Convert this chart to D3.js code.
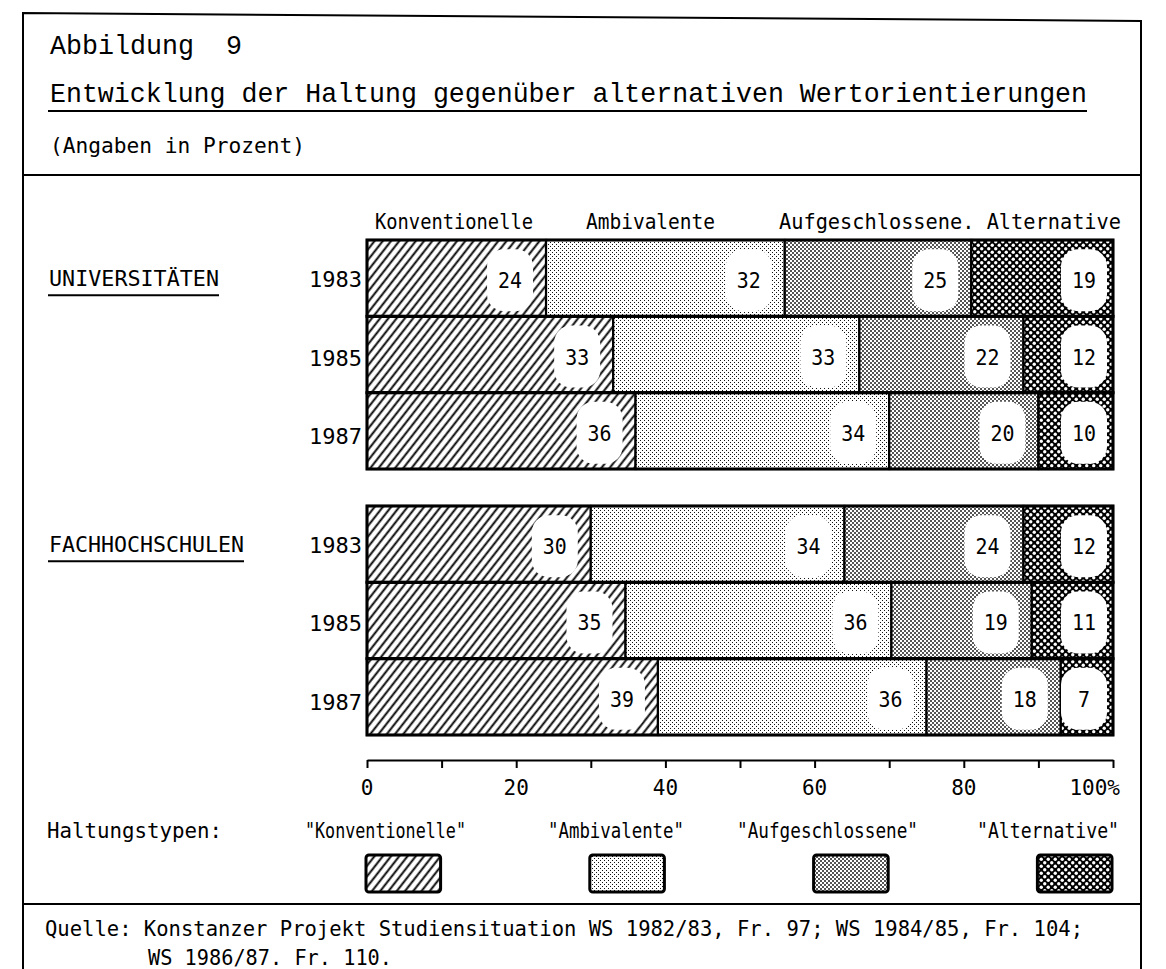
<!DOCTYPE html>
<html><head><meta charset="utf-8">
<script src="https://cdn.jsdelivr.net/npm/d3@7"></script>
<style>body{margin:0;background:#fff}svg{display:block}text{white-space:pre}</style>
</head><body><svg id="c" width="1166" height="969"></svg>
<script>
// ---------- data ----------
const categories = ["Konventionelle", "Ambivalente", "Aufgeschlossene", "Alternative"];
const groups = ["UNIVERSITÄTEN", "FACHHOCHSCHULEN"];
const years = ["1983", "1985", "1987"];
const uniValues = [[24, 32, 25, 19], [33, 33, 22, 12], [36, 34, 20, 10]];
const fhValues = [[30, 34, 24, 12], [35, 36, 19, 11], [39, 36, 18, 7]];
const xTicks = [0, 10, 20, 30, 40, 50, 60, 70, 80, 90, 100];
const xTickLabels = ["0", "20", "40", "60", "80", "100%"];
const xTickLabelValues = [0, 20, 40, 60, 80, 100];
const headerLabels = ["Konventionelle", "Ambivalente", "Aufgeschlossene. Alternative"];
const legendLabels = ['"Konventionelle"', '"Ambivalente"', '"Aufgeschlossene"', '"Alternative"'];

const svg = d3.select("#c");
const MONO = "'DejaVu Sans Mono', monospace";
const SERIFMONO = "'Liberation Mono', monospace";

function txt(xp, yp, s, size, len, fam, anchor) {
  const t = svg.append("text").attr("x", xp).attr("y", yp).attr("font-family", fam || MONO)
    .attr("font-size", size).text(s);
  if (anchor) t.attr("text-anchor", anchor);
  if (len) t.attr("textLength", len).attr("lengthAdjust", "spacingAndGlyphs");
  return t;
}

// ---------- patterns ----------
const defs = svg.append("defs");
const fills = ["url(#pHatch)", "url(#pLight)", "url(#pMed)", "url(#pAlt)"];
let p = defs.append("pattern").attr("id", "pHatch").attr("patternUnits", "userSpaceOnUse")
  .attr("width", 6.5).attr("height", 6.5).attr("patternTransform", "rotate(38)");
p.append("rect").attr("width", 6.5).attr("height", 6.5).attr("fill", "#fff");
p.append("line").attr("x1", 3.25).attr("x2", 3.25).attr("y1", -1).attr("y2", 8).attr("stroke", "#000").attr("stroke-width", 1.9);

p = defs.append("pattern").attr("id", "pLight").attr("patternUnits", "userSpaceOnUse").attr("width", 4).attr("height", 4);
p.append("rect").attr("width", 4).attr("height", 4).attr("fill", "#fff");
p.append("rect").attr("x", 0).attr("y", 0).attr("width", 1).attr("height", 1).attr("fill", "#111");
p.append("rect").attr("x", 2).attr("y", 2).attr("width", 1).attr("height", 1).attr("fill", "#111");

p = defs.append("pattern").attr("id", "pMed").attr("patternUnits", "userSpaceOnUse").attr("width", 4).attr("height", 4);
p.append("rect").attr("width", 4).attr("height", 4).attr("fill", "#fff");
p.append("rect").attr("x", 0).attr("y", 0).attr("width", 2).attr("height", 2).attr("fill", "#555");
p.append("rect").attr("x", 2).attr("y", 2).attr("width", 2).attr("height", 2).attr("fill", "#555");

p = defs.append("pattern").attr("id", "pAlt").attr("patternUnits", "userSpaceOnUse").attr("width", 7).attr("height", 7);
p.append("rect").attr("width", 7).attr("height", 7).attr("fill", "#000");
p.append("circle").attr("cx", 1.75).attr("cy", 1.75).attr("r", 1.7).attr("fill", "#fff");
p.append("circle").attr("cx", 5.25).attr("cy", 5.25).attr("r", 1.7).attr("fill", "#fff");

// ---------- frame ----------
const frame = svg.append("g").attr("stroke", "#000").attr("stroke-width", 2).attr("fill", "none");
frame.append("path").attr("d", "M23,969 L23,13 L1141,21 L1141,969");
frame.append("line").attr("x1", 23).attr("x2", 1141).attr("y1", 175).attr("y2", 175);
frame.append("line").attr("x1", 23).attr("x2", 1141).attr("y1", 904).attr("y2", 904);

// ---------- header ----------
txt(50, 54, "Abbildung  9", 28, 192, SERIFMONO);
txt(50, 102, "Entwicklung der Haltung gegenüber alternativen Wertorientierungen", 28, 1037, SERIFMONO);
svg.append("line").attr("x1", 48).attr("x2", 1087).attr("y1", 111).attr("y2", 111).attr("stroke", "#000").attr("stroke-width", 2);
txt(50, 153, "(Angaben in Prozent)", 22, 255);

// ---------- scales ----------
const x = d3.scaleLinear().domain([0, 1]).range([367, 1113]);
const yGroup = d3.scaleBand().domain(groups).range([240, 735]).paddingInner(0.139);
const yYear = d3.scaleBand().domain(years).range([0, yGroup.bandwidth()]);
const stack = d3.stack().keys(categories).offset(d3.stackOffsetExpand);

// column headers
txt(375, 229, headerLabels[0], 22, 158);
txt(586, 229, headerLabels[1], 22, 129);
txt(779, 229, headerLabels[2], 22, 342);

const groupData = [uniValues, fhValues];
const groupLabelLen = [170, 195];
groups.forEach((g, gi) => {
  const rows = years.map((yr, i) => {
    const o = { year: yr };
    categories.forEach((c, k) => o[c] = groupData[gi][i][k]);
    return o;
  });
  const series = stack(rows);
  const gg = svg.append("g").attr("transform", `translate(0,${yGroup(g)})`);
  series.forEach((s, k) => {
    gg.selectAll(null).data(s).enter().append("rect")
      .attr("x", d => x(d[0])).attr("width", d => x(d[1]) - x(d[0]))
      .attr("y", d => yYear(d.data.year)).attr("height", yYear.bandwidth())
      .attr("fill", fills[k]).attr("stroke", "#000").attr("stroke-width", 2.2);
  });
  gg.selectAll(null).data(rows).enter().append("rect")
    .attr("x", x(0)).attr("width", x(1) - x(0))
    .attr("y", d => yYear(d.year)).attr("height", yYear.bandwidth())
    .attr("fill", "none").attr("stroke", "#000").attr("stroke-width", 3);
  series.forEach((s, k) => {
    const lg = gg.selectAll(null).data(s).enter().append("g")
      .attr("transform", d => `translate(${x(d[1]) - (k === 3 ? 29 : 36)},${yYear(d.data.year) + yYear.bandwidth() / 2 + 2})`);
    lg.append("rect").attr("x", -23).attr("y", -31).attr("width", 46).attr("height", 62).attr("rx", 17).attr("fill", "#fff");
    lg.append("text").attr("text-anchor", "middle").attr("y", 8).attr("font-family", MONO).attr("font-size", 22)
      .attr("textLength", d => String(d.data[s.key]).length * 12).attr("lengthAdjust", "spacingAndGlyphs")
      .text(d => d.data[s.key]);
  });
  gg.selectAll(null).data(years).enter().append("text")
    .attr("x", 362).attr("y", (d, i) => yYear(d) + yYear.bandwidth() / 2 + 9 + i * 2)
    .attr("text-anchor", "end").attr("font-family", MONO).attr("font-size", 22)
    .attr("textLength", 53).attr("lengthAdjust", "spacingAndGlyphs").text(d => d);
  const cy = yYear(years[0]) + yYear.bandwidth() / 2;
  gg.append("text").attr("x", 49).attr("y", cy + 8).attr("font-family", MONO).attr("font-size", 22)
    .attr("textLength", groupLabelLen[gi]).attr("lengthAdjust", "spacingAndGlyphs").text(g);
  gg.append("line").attr("x1", 48).attr("x2", 49 + groupLabelLen[gi]).attr("y1", cy + 17).attr("y2", cy + 17)
    .attr("stroke", "#000").attr("stroke-width", 2);
});

// ---------- axis ----------
const axis = d3.axisBottom(x).tickValues(xTicks.map(v => v / 100)).tickSize(8).tickSizeOuter(0).tickFormat("");
const ax = svg.append("g").attr("transform", "translate(0,760)").call(axis);
ax.selectAll("path,line").attr("stroke", "#000").attr("stroke-width", 2);
svg.selectAll(null).data(xTickLabelValues).enter().append("text")
  .attr("x", (d, i) => i === xTickLabelValues.length - 1 ? x(d / 100) + 7 : x(d / 100))
  .attr("y", 795).attr("text-anchor", (d, i) => i === xTickLabelValues.length - 1 ? "end" : "middle")
  .attr("font-family", MONO).attr("font-size", 21).text((d, i) => xTickLabels[i]);

// ---------- legend ----------
txt(47, 838, "Haltungstypen:", 22, 175);
const legendLabelX = [305, 548, 737, 977];
const legendLabelLen = [161, 136, 181, 142];
const swatchStart = [0, 0.3, 0.6, 0.9];
categories.forEach((c, k) => {
  txt(legendLabelX[k], 838, legendLabels[k], 21, legendLabelLen[k]);
  svg.append("rect").attr("x", x(swatchStart[k]) - 1).attr("y", 855).attr("width", x(0.1) - x(0)).attr("height", 37)
    .attr("rx", 3).attr("fill", fills[k]).attr("stroke", "#000").attr("stroke-width", 3);
});

// ---------- source ----------
txt(45, 936, "Quelle: Konstanzer Projekt Studiensituation WS 1982/83, Fr. 97; WS 1984/85, Fr. 104;", 21.5, 1038);
txt(148, 965, "WS 1986/87. Fr. 110.", 21.5, 244);
</script></body></html>
